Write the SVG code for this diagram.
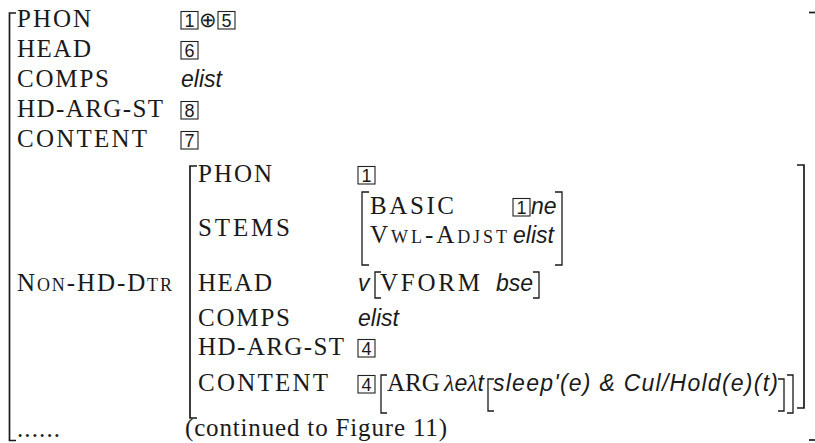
<svg xmlns="http://www.w3.org/2000/svg" width="815" height="443" viewBox="0 0 815 443">
<style>
.l{font-family:"Liberation Serif",serif;font-size:25px;fill:#1a1a1a}
.sc{font-variant:small-caps}
.v{font-family:"Liberation Sans",sans-serif;font-style:italic;font-size:23px;fill:#1a1a1a}
.n{font-family:"Liberation Sans",sans-serif;font-size:18px;fill:#1a1a1a;text-anchor:middle}
.bx{fill:none;stroke:#222;stroke-width:1.1}
.br{fill:none;stroke:#1a1a1a;stroke-width:1.7}
.bs{fill:none;stroke:#1a1a1a;stroke-width:1.3}
.op{font-family:"DejaVu Sans",sans-serif;font-weight:200;font-size:21px;fill:#1a1a1a;text-anchor:middle}
.lam{font-family:"Liberation Serif",serif;font-style:italic;font-size:24px;fill:#1a1a1a}
</style>
<rect width="815" height="443" fill="#fff"/>
<g id="outer-brackets">
<path class="br" d="M16 13 H9.5 V440.5 H16"/>
<path class="br" d="M809 12.5 H815"/>
<path class="br" d="M809 440 H815"/>
</g>
<g id="outer-phon">
<text class="l" x="17" y="27" textLength="74">PHON</text>
<rect class="bx" x="181" y="11.5" width="17" height="17.5"/><text class="n" x="189.5" y="26.5">1</text>
<text class="op" x="208" y="27">⊕</text>
<rect class="bx" x="218" y="11.5" width="17" height="17.5"/><text class="n" x="226.5" y="26.5">5</text>
</g>
<g id="outer-head">
<text class="l" x="17" y="57" textLength="74">HEAD</text>
<rect class="bx" x="181" y="41.5" width="17" height="17.5"/><text class="n" x="189.5" y="56.5">6</text>
</g>
<g id="outer-comps">
<text class="l" x="17" y="87" textLength="92">COMPS</text>
<text class="v" x="181" y="87">elist</text>
</g>
<g id="outer-hdargst">
<text class="l" x="17" y="117" textLength="146">HD-ARG-ST</text>
<rect class="bx" x="181" y="101.5" width="17" height="17.5"/><text class="n" x="189.5" y="116.5">8</text>
</g>
<g id="outer-content">
<text class="l" x="17" y="147" textLength="130">CONTENT</text>
<rect class="bx" x="181" y="131.5" width="17" height="17.5"/><text class="n" x="189.5" y="146.5">7</text>
</g>
<g id="non-hd-dtr">
<text class="l sc" x="17" y="291" textLength="155">Non-HD-Dtr</text>
<path class="br" d="M197 166 H190 V418 H197"/>
<path class="br" d="M797 165 H804 V408 H797"/>
<g id="inner-phon">
<text class="l" x="198" y="182" textLength="74">PHON</text>
<rect class="bx" x="358" y="166.5" width="17" height="17.5"/><text class="n" x="366.5" y="181.5">1</text>
</g>
<g id="inner-stems">
<text class="l" x="198" y="236" textLength="92">STEMS</text>
<path class="bs" d="M369 192 H362 V265 H369"/>
<text class="l" x="370" y="214" textLength="84">BASIC</text>
<text class="l sc" x="370" y="243" textLength="137">Vwl-Adjst</text>
<rect class="bx" x="513" y="198.5" width="17" height="17.5"/><text class="n" x="521.5" y="213.5">1</text>
<text class="v" x="531" y="214">ne</text>
<text class="v" x="513" y="243">elist</text>
<path class="bs" d="M555 192 H562 V265 H555"/>
</g>
<g id="inner-head">
<text class="l" x="198" y="291" textLength="74">HEAD</text>
<text class="v" x="358" y="291">v</text>
<path class="bs" d="M381 272 H375 V298 H381"/>
<text class="l" x="380" y="291" textLength="100">VFORM</text>
<text class="v" x="496" y="291">bse</text>
<path class="bs" d="M533 272 H539 V298 H533"/>
</g>
<g id="inner-comps">
<text class="l" x="198" y="326" textLength="92">COMPS</text>
<text class="v" x="358" y="326">elist</text>
</g>
<g id="inner-hdargst">
<text class="l" x="198" y="355" textLength="146">HD-ARG-ST</text>
<rect class="bx" x="358" y="339.5" width="17" height="17.5"/><text class="n" x="366.5" y="354.5">4</text>
</g>
<g id="inner-content">
<text class="l" x="198" y="391" textLength="130">CONTENT</text>
<rect class="bx" x="358" y="375.5" width="17" height="17.5"/><text class="n" x="366.5" y="390.5">4</text>
<path class="bs" d="M387 375 H381 V413 H387"/>
<text class="l" x="387" y="391">ARG</text>
<text x="444" y="391"><tspan class="lam">λ</tspan><tspan class="v">e</tspan><tspan class="lam">λ</tspan><tspan class="v">t</tspan></text>
<path class="bs" d="M494 379 H488 V411 H494"/>
<text class="v" x="493" y="391" textLength="285">sleep'(e) &amp; Cul/Hold(e)(t)</text>
<path class="bs" d="M778 379 H784 V411 H778"/>
<path class="bs" d="M787 375 H793 V413 H787"/>
</g>
</g>
<g id="footer">
<text class="l" x="17" y="437" textLength="43">......</text>
<text class="l" x="185" y="436" textLength="262">(continued to Figure 11)</text>
</g>
</svg>
